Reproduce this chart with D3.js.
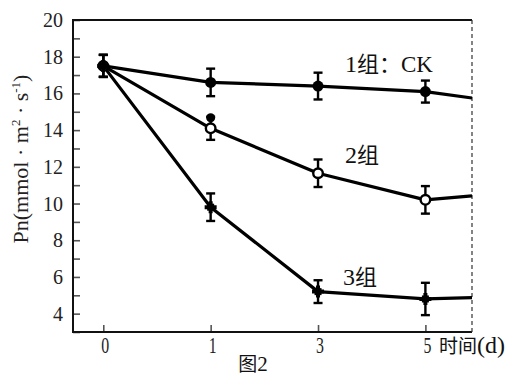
<!DOCTYPE html>
<html>
<head>
<meta charset="utf-8">
<script src="https://cdn.jsdelivr.net/npm/d3@7/dist/d3.min.js"></script>
<style>
  html, body { margin: 0; padding: 0; background: #fff; }
  svg { display: block; }
  .serif { font-family: "Liberation Serif", "DejaVu Serif", serif; }
  .cjk { font-family: "Noto Sans CJK SC", sans-serif; }
</style>
</head>
<body>
<svg id="chart" width="515" height="376"></svg>
<script>
// Sampling days (equally spaced on the axis)
const days = ["0", "1", "3", "5"];

// Net photosynthetic rate Pn for the three treatment groups
const ckValues = [17.5, 16.6, 16.4, 16.1];
const ckErrors = [0.6, 0.75, 0.73, 0.6];
const g2Values = [17.5, 14.1, 11.65, 10.2];
const g2Errors = [0.6, 0.63, 0.75, 0.75];
const g3Values = [17.5, 9.8, 5.2, 4.8];
const g3Errors = [0.6, 0.75, 0.62, 0.88];

// Where each curve meets the dashed right border
const edgeValues = [15.75, 10.42, 4.87];

const yTicks = [4, 6, 8, 10, 12, 14, 16, 18, 20];
const groupLabels = ["1组：CK", "2组", "3组"];

const svg = d3.select("#chart");
const plotLeft = 73, plotRight = 472, plotTop = 20, plotBottom = 332;

const x = d3.scaleLinear().domain([-0.282, 3.434]).range([plotLeft, plotRight]);
const y = d3.scaleLinear().domain([3, 20]).range([plotBottom, plotTop]);

// Y axis: ticks point into the plot, one every unit
const yAxis = d3.axisRight(y)
  .tickValues(d3.range(3, 21, 1))
  .tickSize(7)
  .tickFormat("");
const yg = svg.append("g").attr("transform", `translate(${plotLeft},0)`).call(yAxis);
yg.select(".domain").remove();
yg.selectAll("line").attr("stroke", "#555").attr("stroke-width", 1.6);

svg.append("g").selectAll("text").data(yTicks).join("text")
  .attr("class", "serif")
  .attr("x", 63)
  .attr("y", d => y(d) + 7)
  .attr("text-anchor", "end")
  .attr("font-size", 20)
  .attr("fill", "#222")
  .text(d => d);

// X axis: ticks point upward
const xAxis = d3.axisTop(x)
  .tickValues(d3.range(days.length))
  .tickSize(7)
  .tickFormat("");
const xg = svg.append("g").attr("transform", `translate(0,${plotBottom})`).call(xAxis);
xg.select(".domain").remove();
xg.selectAll("line").attr("stroke", "#555").attr("stroke-width", 1.6);

svg.append("g").selectAll("text").data(days).join("text")
  .attr("class", "serif")
  .attr("transform", (d, i) => `translate(${x(i) + 2},353) scale(0.66,1)`)
  .attr("text-anchor", "middle")
  .attr("font-size", 24)
  .attr("fill", "#222")
  .text(d => d);

// Frame: solid left, bottom, top; dashed right
svg.append("line").attr("x1", plotLeft).attr("x2", plotLeft).attr("y1", plotTop).attr("y2", plotBottom)
  .attr("stroke", "#111").attr("stroke-width", 2);
svg.append("line").attr("x1", plotLeft - 1).attr("x2", plotRight).attr("y1", plotBottom).attr("y2", plotBottom)
  .attr("stroke", "#111").attr("stroke-width", 2);
svg.append("line").attr("x1", plotLeft - 1).attr("x2", plotRight).attr("y1", plotTop).attr("y2", plotTop)
  .attr("stroke", "#111").attr("stroke-width", 2);
svg.append("line").attr("x1", plotRight).attr("x2", plotRight).attr("y1", plotTop).attr("y2", plotBottom)
  .attr("stroke", "#333").attr("stroke-width", 1.2).attr("stroke-dasharray", "4,3");

// Curves
const series = [
  { values: ckValues, errors: ckErrors, edge: edgeValues[0], marker: "filled" },
  { values: g2Values, errors: g2Errors, edge: edgeValues[1], marker: "open" },
  { values: g3Values, errors: g3Errors, edge: edgeValues[2], marker: "cross" }
];

const line = d3.line().x(d => x(d[0])).y(d => y(d[1]));

// Draw the lower groups first so the CK curve sits on top at day 0
[...series].reverse().forEach(s => {
  const pts = s.values.map((v, i) => [i, v]);
  pts.push([x.domain()[1], s.edge]);
  svg.append("path").datum(pts)
    .attr("d", line)
    .attr("fill", "none")
    .attr("stroke", "#000")
    .attr("stroke-width", 3.2)
    .attr("stroke-linejoin", "round");
});

series.forEach(s => {
  const g = svg.append("g");
  s.values.forEach((v, i) => {
    const cx = x(i), e = s.errors[i];
    const y1 = y(v + e), y2 = y(v - e);
    g.append("line").attr("x1", cx).attr("x2", cx).attr("y1", y1).attr("y2", y2)
      .attr("stroke", "#000").attr("stroke-width", 2.4);
    [y1, y2].forEach(yy => g.append("line")
      .attr("x1", cx - 4.5).attr("x2", cx + 4.5).attr("y1", yy).attr("y2", yy)
      .attr("stroke", "#000").attr("stroke-width", 2.4));
    const cy = y(v);
    if (s.marker === "filled") {
      g.append("circle").attr("cx", cx).attr("cy", cy).attr("r", 5.5).attr("fill", "#000");
    } else if (s.marker === "open") {
      g.append("circle").attr("cx", cx).attr("cy", cy).attr("r", 4.8)
        .attr("fill", "#fff").attr("stroke", "#000").attr("stroke-width", 2.4);
    } else {
      g.append("path").attr("transform", `translate(${cx},${cy})`)
        .attr("d", d3.symbol(d3.symbolCross, 80)())
        .attr("fill", "#000");
      g.append("rect").attr("x", cx - 3.5).attr("y", cy - 3.5)
        .attr("width", 7).attr("height", 7).attr("fill", "#000");
    }
  });
});

// The upper whisker of group 2 on day 1 ends in a solid dot
svg.append("circle")
  .attr("cx", x(1)).attr("cy", y(g2Values[1] + g2Errors[1]) + 1)
  .attr("r", 4.5).attr("fill", "#000");

// Group labels
const labelPos = [[345, 72], [345, 163], [343, 285]];
groupLabels.forEach((t, i) => {
  const txt = svg.append("text")
    .attr("x", labelPos[i][0]).attr("y", labelPos[i][1])
    .attr("font-size", 22).attr("fill", "#111");
  const m = t.match(/^(\d)(组)(.*)$/);
  txt.append("tspan").attr("class", "serif").attr("font-size", 24).text(m[1]);
  txt.append("tspan").attr("class", "cjk").text(m[2] + (m[3] ? "：" : ""));
  if (m[3]) txt.append("tspan").attr("class", "serif").attr("font-size", 23)
    .text(m[3].replace("：", ""));
});

// Axis titles
const xt = svg.append("text")
  .attr("x", 439).attr("y", 353)
  .attr("fill", "#111");
xt.append("tspan").attr("class", "cjk").attr("font-size", 19).text("时间");
xt.append("tspan").attr("class", "serif").attr("font-size", 24).text("(d)");

const yt = svg.append("text")
  .attr("class", "serif")
  .attr("transform", "translate(28,159) rotate(-90)")
  .attr("text-anchor", "middle")
  .attr("font-size", 22)
  .attr("fill", "#222");
yt.append("tspan").text("Pn(mmol · m");
yt.append("tspan").attr("font-size", 13).attr("dy", -8).text("2");
yt.append("tspan").attr("dy", 8).text(" · s");
yt.append("tspan").attr("font-size", 13).attr("dy", -8).text("-1");
yt.append("tspan").attr("dy", 8).text(")");

// Figure caption
const cap = svg.append("text").attr("x", 253).attr("y", 371)
  .attr("text-anchor", "middle").attr("font-size", 19).attr("fill", "#111");
cap.append("tspan").attr("class", "cjk").text("图");
cap.append("tspan").attr("class", "serif").attr("font-size", 21).text("2");
</script>
</body>
</html>
